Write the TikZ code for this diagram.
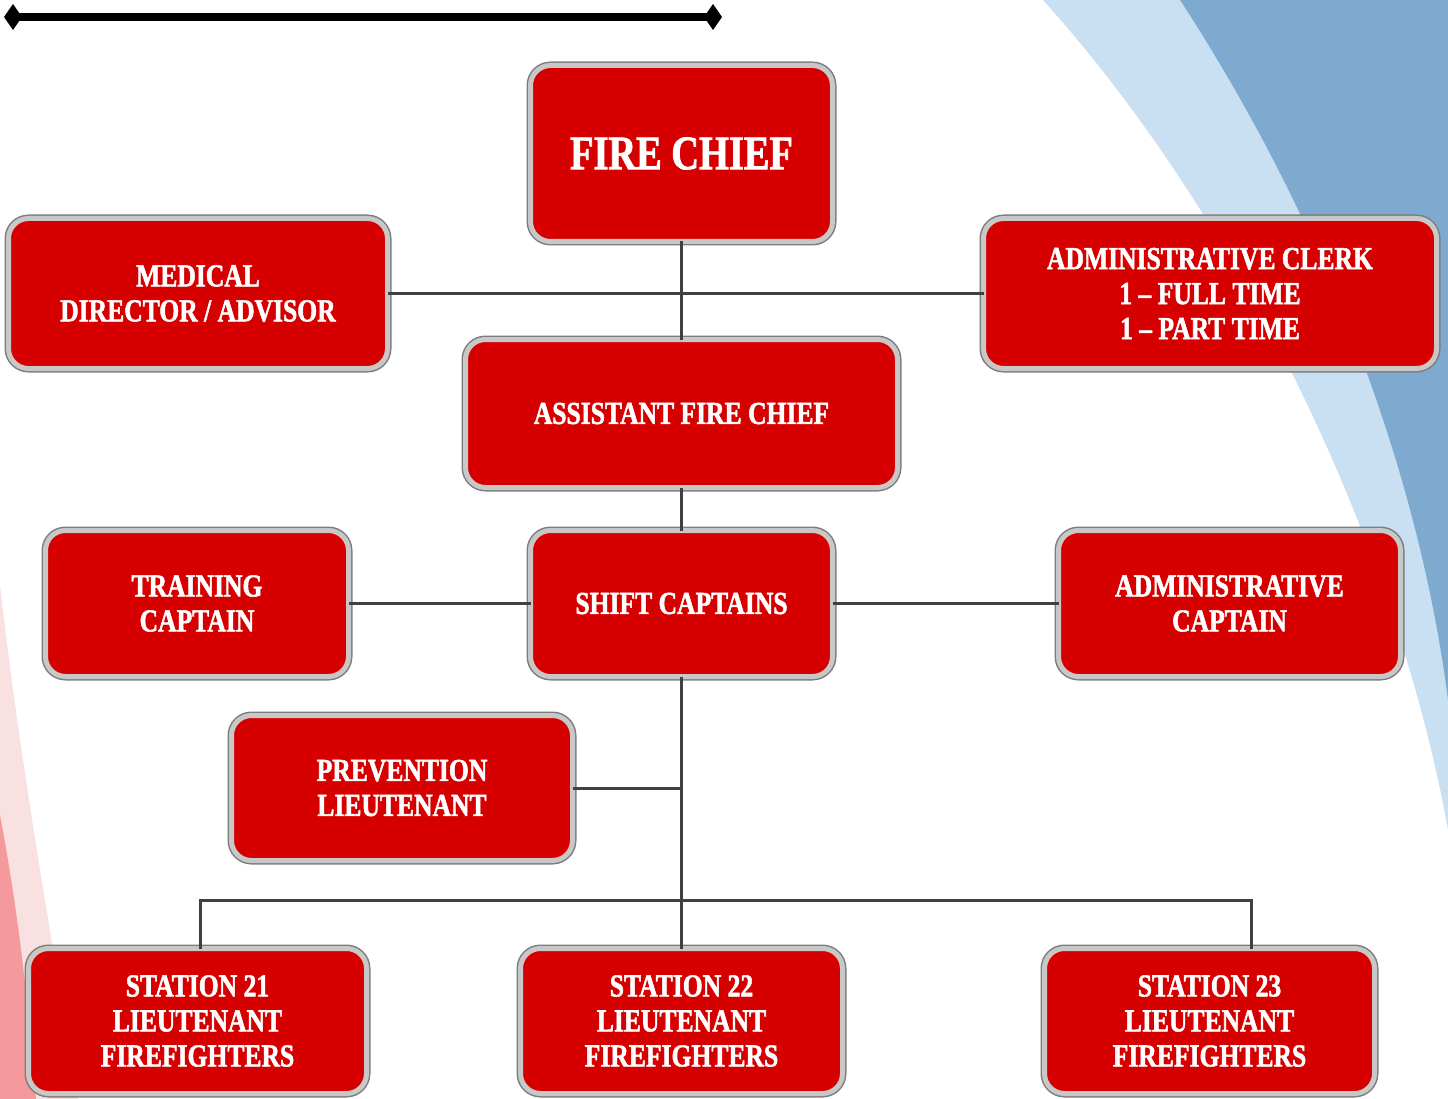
\documentclass[tikz,border=0pt]{standalone}
\usepackage{fontspec}
\newfontfamily\stencil{Liberation Serif}[FakeStretch=0.8, Ligatures=TeX, BoldFeatures={FakeBold=1.6}]
\usetikzlibrary{arrows.meta,calc}
\definecolor{boxred}{RGB}{214,0,0}
\definecolor{bevel}{RGB}{200,200,200}
\definecolor{bevdark}{RGB}{125,125,125}
\definecolor{lineg}{RGB}{64,64,64}
\definecolor{dblue}{RGB}{127,170,207}
\definecolor{lblue}{RGB}{201,223,242}
\definecolor{lpink}{RGB}{249,225,225}
\definecolor{dpink}{RGB}{244,153,156}
\tikzset{
  unit/.style={rounded corners=20pt, fill=boxred, draw=bevel, line width=5pt,
    preaction={draw=bevdark, line width=8pt},
    text=white, align=center, inner sep=0pt, outer sep=0pt,
    font=\stencil\bfseries\fontsize{32}{35}\selectfont},
  conn/.style={draw=lineg, line width=3pt}
}
\begin{document}
\begin{tikzpicture}[x=1pt,y=-1pt]
\useasboundingbox (0,0) rectangle (1448,1099);
\fill[white] (0,0) rectangle (1448,1099);
% background swooshes
\fill[lblue] (1043,0) .. controls (1250,230) and (1400,560) .. (1448,830) -- (1448,0) -- cycle;
\fill[dblue] (1180,0) .. controls (1330,230) and (1420,480) .. (1448,700) -- (1448,0) -- cycle;
\fill[lpink] (0,585) .. controls (20,760) and (45,900) .. (78,1099) -- (0,1099) -- cycle;
\fill[dpink] (0,815) .. controls (12,880) and (25,960) .. (36,1099) -- (0,1099) -- cycle;
% top rule
\coordinate (rl) at (4,17);
\coordinate (rr) at (722,17);
\draw[line width=8pt, {Diamond[length=18pt 0 0,width=26pt 0 0]}-{Diamond[length=18pt 0 0,width=26pt 0 0]}] (rl) -- (rr);
% boxes
\node[unit, minimum width=302, minimum height=176, font=\stencil\bfseries\fontsize{48}{50}\selectfont] (fc) at (681.5,153.5) {FIRE CHIEF};
\node[unit, minimum width=379, minimum height=150] (med) at (198,293.5) {MEDICAL\\DIRECTOR / ADVISOR};
\node[unit, minimum width=453, minimum height=150] (clerk) at (1210,293.5) {ADMINISTRATIVE CLERK\\1 – FULL TIME\\1 – PART TIME};
\node[unit, minimum width=432, minimum height=148] (afc) at (681.5,413.5) {ASSISTANT FIRE CHIEF};
\node[unit, minimum width=303, minimum height=146] (tc) at (197,603.5) {TRAINING\\CAPTAIN};
\node[unit, minimum width=302, minimum height=146] (sc) at (681.5,603.5) {SHIFT CAPTAINS};
\node[unit, minimum width=342, minimum height=146] (ac) at (1229.5,603.5) {ADMINISTRATIVE\\CAPTAIN};
\node[unit, minimum width=341, minimum height=145] (pl) at (402,788) {PREVENTION\\LIEUTENANT};
\node[unit, minimum width=338, minimum height=145] (s21) at (197.5,1021) {STATION 21\\LIEUTENANT\\FIREFIGHTERS};
\node[unit, minimum width=322, minimum height=145] (s22) at (681.5,1021) {STATION 22\\LIEUTENANT\\FIREFIGHTERS};
\node[unit, minimum width=330, minimum height=145] (s23) at (1209.5,1021) {STATION 23\\LIEUTENANT\\FIREFIGHTERS};
% connectors
\coordinate (b21) at (200,900);
\coordinate (b23) at (1251,900);
\draw[conn] (fc.south) -- (afc.north);
\draw[conn] (med.east) -- (clerk.west);
\draw[conn] (afc.south) -- (sc.north);
\draw[conn] (tc.east) -- (sc.west);
\draw[conn] (sc.east) -- (ac.west);
\draw[conn] (sc.south) -- (s22.north);
\draw[conn] (pl.east) -- (pl.east -| sc.south);
\draw[conn] (b21 |- s21.north) -- (b21) -- (b23) -- (b23 |- s23.north);
\end{tikzpicture}
\end{document}
